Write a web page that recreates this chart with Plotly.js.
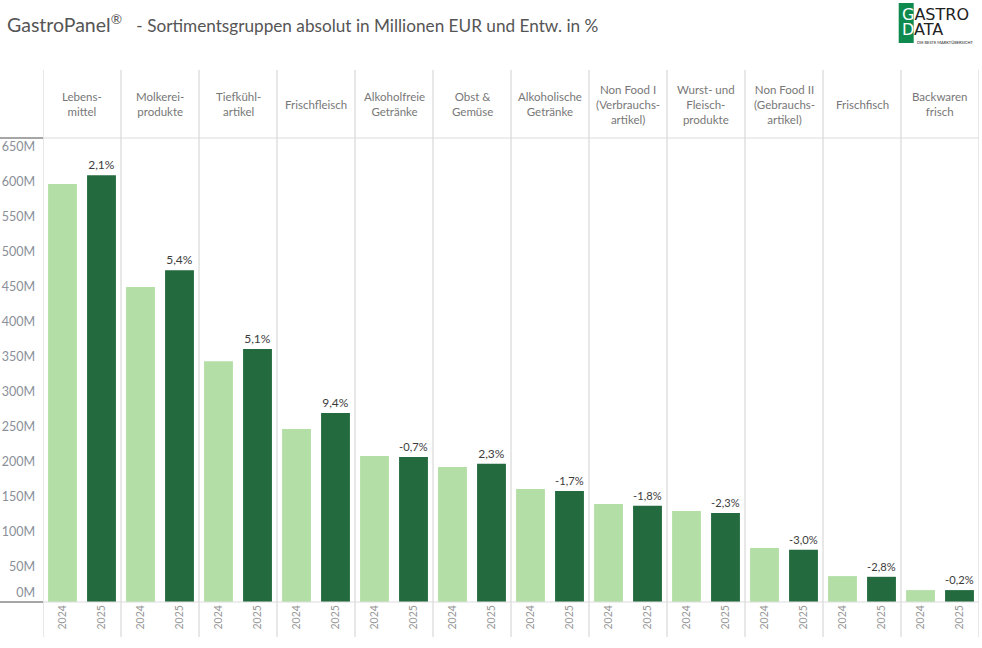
<!DOCTYPE html>
<html>
<head>
<meta charset="utf-8">
<script src="https://cdn.plot.ly/plotly-3.0.1.min.js"></script>
<style>
  html, body { margin: 0; padding: 0; background: #fff; }
  #chart { width: 982px; height: 648px; }
</style>
</head>
<body>
<div id="chart"></div>
<script>
// Sortimentsgruppen (header labels, line breaks as in the original)
const categories = [
  "Lebens-<br>mittel", "Molkerei-<br>produkte", "Tiefkühl-<br>artikel", "Frischfleisch",
  "Alkoholfreie<br>Getränke", "Obst &<br>Gemüse", "Alkoholische<br>Getränke",
  "Non Food I<br>(Verbrauchs-<br>artikel)", "Wurst- und<br>Fleisch-<br>produkte",
  "Non Food II<br>(Gebrauchs-<br>artikel)", "Frischfisch", "Backwaren<br>frisch"
];
const years = ["2024", "2025"];
// Umsatz in Mio. EUR
const values2024 = [597, 450, 344, 247, 208.5, 193, 161.5, 140, 130, 77, 37, 17];
const values2025 = [609.5, 474, 361.5, 270, 207, 197.5, 158.7, 137.5, 127, 74.7, 36, 17];
const growthLabels = ["2,1%", "5,4%", "5,1%", "9,4%", "-0,7%", "2,3%", "-1,7%", "-1,8%", "-2,3%", "-3,0%", "-2,8%", "-0,2%"];
const yTicks = [0, 50, 100, 150, 200, 250, 300, 350, 400, 450, 500, 550, 600, 650];

const colorLight = "#b3dfa7";
const colorDark = "#236a3e";
const font = "Lato, 'Open Sans', sans-serif";

// pane layout: each category gets 2 slots on a numeric x axis
const xs2024 = categories.map((c, i) => i * 2 + 0.5);
const xs2025 = categories.map((c, i) => i * 2 + 1.5);

const traces = [
  {
    type: "bar", name: years[0], x: xs2024, y: values2024,
    width: 0.74, marker: { color: colorLight },
    hoverinfo: "y",
  },
  {
    type: "bar", name: years[1], x: xs2025, y: values2025,
    width: 0.74, marker: { color: colorDark },
    text: growthLabels, textposition: "outside", cliponaxis: false,
    textfont: { family: font, size: 12, color: "#3c3c3c" },
    hoverinfo: "y",
  },
];

// pixel helpers (plot area: x 43..979, y 138..602)
const plotTop = 138, plotBottom = 602, plotLeft = 43.3, plotWidth = 936;
const py = (p) => (plotBottom - p) / (plotBottom - plotTop);
const px = (p) => (p - plotLeft) / plotWidth;

const shapes = [];
// vertical pane separators
for (let i = 0; i <= categories.length; i++) {
  shapes.push({
    type: "line", xref: "x", yref: "paper",
    x0: i * 2, x1: i * 2, y0: py(637), y1: py(70),
    line: { color: "#d0d0d0", width: 1 },
  });
}
// header bottom + baseline, light across panes
[plotTop, plotBottom].forEach((yy) => {
  shapes.push({
    type: "line", xref: "paper", yref: "paper",
    x0: 0, x1: 1, y0: py(yy), y1: py(yy),
    line: { color: "#dcdcdc", width: 1 },
  });
  shapes.push({
    type: "line", xref: "paper", yref: "paper",
    x0: px(0), x1: 0, y0: py(yy), y1: py(yy),
    line: { color: "#888", width: 1.5 },
  });
});
// logo box
shapes.push({
  type: "rect", xref: "paper", yref: "paper",
  x0: px(899), x1: px(914), y0: py(43), y1: py(3),
  fillcolor: "#0f8a4f", line: { width: 0 },
});

const annotations = categories.map((c, i) => ({
  xref: "x", yref: "paper", x: i * 2 + 1, y: py(104),
  text: c, showarrow: false, align: "center",
  xanchor: "center", yanchor: "middle",
  font: { family: font, size: 11.5, color: "#777" },
}));
annotations.push(
  {
    xref: "paper", yref: "paper", x: px(900), y: py(15),
    text: "<span style='color:#fff'>G</span>ASTRO", showarrow: false,
    xanchor: "left", yanchor: "middle",
    font: { family: "'DejaVu Sans', sans-serif", size: 16, color: "#222" },
  },
  {
    xref: "paper", yref: "paper", x: px(900), y: py(30),
    text: "<span style='color:#fff'>D</span>ATA", showarrow: false,
    xanchor: "left", yanchor: "middle",
    font: { family: "'DejaVu Sans', sans-serif", size: 16, color: "#222" },
  },
  {
    xref: "paper", yref: "paper", x: px(915), y: py(42),
    text: "DIE BESTE MARKTÜBERSICHT", showarrow: false,
    xanchor: "left", yanchor: "middle",
    font: { family: font, size: 4, color: "#222" },
  }
);

const layout = {
  width: 982, height: 648,
  margin: { l: plotLeft, r: 982 - plotLeft - plotWidth, t: plotTop, b: 648 - plotBottom, pad: 0 },
  paper_bgcolor: "#fff", plot_bgcolor: "#fff",
  showlegend: false,
  title: {
    text: "GastroPanel<sup>®</sup>  <span style='font-size:17.2px'> - Sortimentsgruppen absolut in Millionen EUR und Entw. in %</span>",
    x: 7 / 982, xanchor: "left", xref: "container",
    y: 1 - 25 / 648, yanchor: "middle", yref: "container",
    font: { family: font, size: 19.5, color: "#555" },
  },
  xaxis: {
    range: [0, categories.length * 2],
    tickvals: xs2024.concat(xs2025),
    ticktext: xs2024.map(() => years[0]).concat(xs2025.map(() => years[1])),
    tickangle: -90, ticks: "", showgrid: false, zeroline: false, showline: false,
    tickfont: { family: font, size: 10.5, color: "#999" },
    fixedrange: true,
  },
  yaxis: {
    range: [0, (plotBottom - plotTop) / 0.7],
    // the 0M label sits a little above the baseline, as in the original
    tickvals: yTicks.map((v) => (v === 0 ? 13 : v)),
    ticktext: yTicks.map((v) => v + "M"),
    ticks: "", showgrid: false, zeroline: false, showline: false,
    ticklabelstandoff: 7,
    tickfont: { family: font, size: 12.5, color: "#8a8f99" },
    fixedrange: true,
  },
  shapes: shapes,
  annotations: annotations,
  font: { family: font },
};

Plotly.newPlot("chart", traces, layout, { displayModeBar: false, staticPlot: true });
</script>
</body>
</html>
